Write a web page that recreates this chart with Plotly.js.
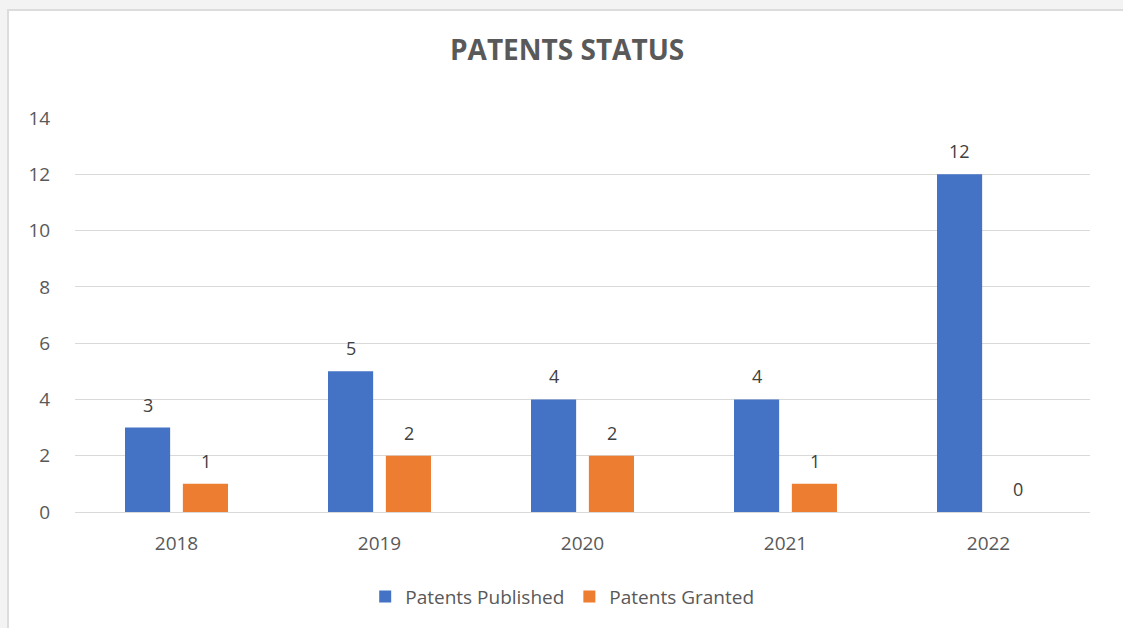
<!DOCTYPE html>
<html>
<head>
<meta charset="utf-8">
<script src="https://cdn.plot.ly/plotly-3.0.1.min.js"></script>
<style>
html,body{margin:0;padding:0;background:#f3f3f3;overflow:hidden;}
#frame{position:absolute;left:7px;top:9px;width:1130px;height:640px;background:#fff;border:2px solid #dcdcdc;box-sizing:border-box;}
#chart{position:absolute;left:0;top:0;width:1123px;height:628px;}
</style>
</head>
<body>
<div id="frame"></div>
<div id="chart"></div>
<script>
const years = ['2018', '2019', '2020', '2021', '2022'];
const published = [3, 5, 4, 4, 12];
const granted = [1, 2, 2, 1, 0];
const seriesNames = ['Patents Published', 'Patents Granted'];
const colors = ['#4472C4', '#ED7D31'];

const FONT = '"Open Sans", "Noto Sans", sans-serif';
const GREY = '#595959';

const traces = [published, granted].map((vals, i) => ({
  type: 'bar',
  name: seriesNames[i],
  x: years,
  y: vals,
  marker: {color: colors[i], line: {width: 0}},
  hoverinfo: 'x+y+name'
}));

// data labels via annotations (category index positions)
const annotations = [];
[published, granted].forEach((vals, i) => {
  vals.forEach((v, j) => {
    annotations.push({
      x: j, y: v, xref: 'x', yref: 'y',
      text: String(v), showarrow: false,
      xshift: (i === 0 ? -29 : 29), yshift: 23,
      yanchor: 'middle',
      font: {family: FONT, size: 18, color: '#404040'}
    });
  });
});

const layout = {
  width: 1123, height: 628,
  paper_bgcolor: 'rgba(0,0,0,0)',
  plot_bgcolor: 'rgba(0,0,0,0)',
  margin: {l: 75, r: 33, t: 118, b: 114},
  title: {
    text: '<b>PATENTS STATUS</b>',
    font: {family: FONT, size: 28, color: GREY},
    x: 0.505, xanchor: 'center', xref: 'container',
    y: 1 - 50/628, yanchor: 'middle', yref: 'container'
  },
  barmode: 'group',
  bargap: 0.43,
  bargroupgap: 0.22,
  xaxis: {
    type: 'category',
    range: [-0.5, 4.5],
    autorange: false,
    showgrid: false,
    showline: false,
    zeroline: false,
    ticks: 'outside', ticklen: 14, tickcolor: 'rgba(0,0,0,0)',
    tickfont: {family: FONT, size: 19, color: GREY},
    fixedrange: true
  },
  yaxis: {
    range: [0, 14],
    autorange: false,
    dtick: 2,
    showgrid: true,
    gridcolor: '#d9d9d9',
    gridwidth: 1,
    zeroline: true,
    zerolinecolor: '#d9d9d9',
    zerolinewidth: 1,
    showline: false,
    ticks: 'outside', ticklen: 20, tickcolor: 'rgba(0,0,0,0)',
    tickfont: {family: FONT, size: 19, color: GREY},
    fixedrange: true
  },
  showlegend: true,
  legend: {
    orientation: 'h',
    x: 0.48, xanchor: 'center',
    y: -0.215, yanchor: 'middle',
    font: {family: FONT, size: 19, color: GREY},
    itemwidth: 30,
    traceorder: 'normal'
  },
  annotations: annotations
};

Plotly.newPlot('chart', traces, layout, {displayModeBar: false, staticPlot: true});
</script>
</body>
</html>
